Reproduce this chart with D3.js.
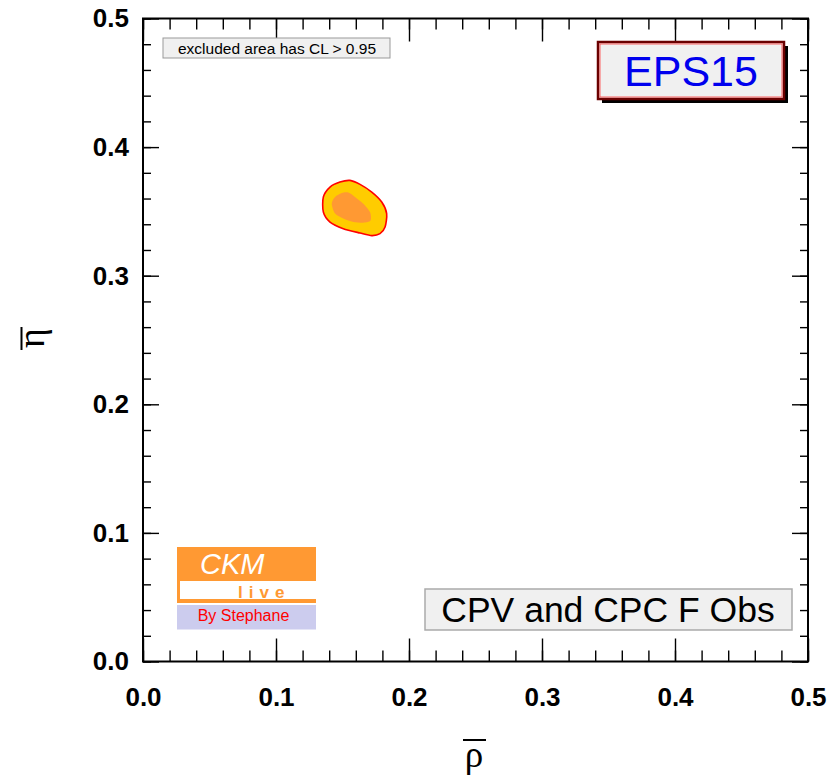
<!DOCTYPE html>
<html>
<head>
<meta charset="utf-8">
<script src="https://cdn.jsdelivr.net/npm/d3@7"></script>
<style>
  body { margin: 0; background: #fff; }
  svg { display: block; }
  .axis path { display: none; }
  .axis line { stroke: #000; stroke-width: 1.4; }
  .axis text { font-family: "Liberation Sans", Arial, sans-serif; font-weight: bold; font-size: 26px; fill: #000; }
</style>
</head>
<body>
<div id="graph"></div>
<script>
// tick labels
const rhoTicks = [0.0, 0.1, 0.2, 0.3, 0.4, 0.5];
const etaTicks = [0.0, 0.1, 0.2, 0.3, 0.4, 0.5];

// 95% CL contour (outer) and inner region
const outerRho = [0.1356, 0.1406, 0.1481, 0.1556, 0.1632, 0.1720, 0.1795, 0.1832, 0.1820, 0.1782, 0.1720, 0.1632, 0.1506, 0.1406, 0.1356];
const outerEta = [0.3612, 0.3689, 0.3728, 0.3741, 0.3710, 0.3650, 0.3573, 0.3483, 0.3378, 0.3327, 0.3312, 0.3332, 0.3366, 0.3417, 0.3495];
const innerRho = [0.1419, 0.1444, 0.1494, 0.1544, 0.1594, 0.1656, 0.1707, 0.1712, 0.1669, 0.1581, 0.1506, 0.1444];
const innerEta = [0.3560, 0.3612, 0.3643, 0.3646, 0.3612, 0.3560, 0.3495, 0.3431, 0.3413, 0.3418, 0.3444, 0.3483];

const svgWidth = 838;
const svgHeight = 775;
const plotLeft = 143, plotRight = 808, plotTop = 18.5, plotBottom = 661.5;

const svg = d3.select('#graph')
    .append('svg')
    .attr('width', svgWidth)
    .attr('height', svgHeight);

const xScale = d3.scaleLinear().domain([0, 0.5]).range([plotLeft, plotRight]);
const yScale = d3.scaleLinear().domain([0, 0.5]).range([plotBottom, plotTop]);

const minor = d3.range(0, 0.5001, 0.02);

// contours
const line = d3.line()
    .x(d => xScale(d[0]))
    .y(d => yScale(d[1]))
    .curve(d3.curveCardinalClosed.tension(0.2));

svg.append('path')
    .attr('d', line(outerRho.map((r, i) => [r, outerEta[i]])))
    .attr('fill', '#ffcc00')
    .attr('stroke', '#ff0000')
    .attr('stroke-width', 1.6);

svg.append('path')
    .attr('d', line(innerRho.map((r, i) => [r, innerEta[i]])))
    .attr('fill', '#ff9933');

// axes: major + minor on all four sides, ticks pointing inward
function addAxis(axisFn, scale, pos, size, values, labels, pad) {
    const ax = axisFn(scale)
        .tickValues(values)
        .tickSizeInner(-size)
        .tickSizeOuter(0)
        .tickPadding(pad || 0);
    if (labels) ax.tickFormat(d3.format('.1f')); else ax.tickFormat('');
    svg.append('g')
        .attr('class', 'axis')
        .attr('transform', pos)
        .call(ax);
}

addAxis(d3.axisBottom, xScale, `translate(0,${plotBottom})`, 23, rhoTicks, true, 26);
addAxis(d3.axisBottom, xScale, `translate(0,${plotBottom})`, 11, minor, false);
addAxis(d3.axisTop, xScale, `translate(0,${plotTop})`, 23, rhoTicks, false);
addAxis(d3.axisTop, xScale, `translate(0,${plotTop})`, 11, minor, false);
addAxis(d3.axisLeft, yScale, `translate(${plotLeft},0)`, 16, etaTicks, true, 14);
addAxis(d3.axisLeft, yScale, `translate(${plotLeft},0)`, 8, minor, false);
addAxis(d3.axisRight, yScale, `translate(${plotRight},0)`, 16, etaTicks, false);
addAxis(d3.axisRight, yScale, `translate(${plotRight},0)`, 8, minor, false);

// frame
svg.append('rect')
    .attr('x', plotLeft)
    .attr('y', plotTop)
    .attr('width', plotRight - plotLeft)
    .attr('height', plotBottom - plotTop)
    .attr('fill', 'none')
    .attr('stroke', '#000')
    .attr('stroke-width', 2);

// axis titles
svg.append('text')
    .text('ρ')
    .attr('x', 474)
    .attr('y', 767)
    .attr('text-anchor', 'middle')
    .style('font-family', '"Liberation Serif", "Times New Roman", serif')
    .style('font-size', '37px');
svg.append('line')
    .attr('x1', 463).attr('x2', 486)
    .attr('y1', 740).attr('y2', 740)
    .attr('stroke', '#000').attr('stroke-width', 2);

svg.append('text')
    .text('η')
    .attr('transform', 'translate(44,338) rotate(-90)')
    .attr('text-anchor', 'middle')
    .style('font-family', '"Liberation Serif", "Times New Roman", serif')
    .style('font-size', '38px');
svg.append('line')
    .attr('x1', 21.5).attr('x2', 21.5)
    .attr('y1', 327).attr('y2', 350)
    .attr('stroke', '#000').attr('stroke-width', 2);

// CL note
svg.append('rect')
    .attr('x', 163).attr('y', 38)
    .attr('width', 227).attr('height', 20)
    .attr('fill', '#f0f0f0')
    .attr('stroke', '#999').attr('stroke-width', 1);
svg.append('text')
    .text('excluded area has CL > 0.95')
    .attr('x', 277).attr('y', 53.5)
    .attr('text-anchor', 'middle')
    .style('font-family', '"Liberation Sans", Arial, sans-serif')
    .style('font-size', '15.5px');

// EPS15 box
svg.append('rect')
    .attr('x', 602).attr('y', 46)
    .attr('width', 186).attr('height', 57)
    .attr('fill', '#000');
svg.append('rect')
    .attr('x', 598).attr('y', 42)
    .attr('width', 186).attr('height', 57)
    .attr('fill', '#f0f0f0')
    .attr('stroke', '#6b0000').attr('stroke-width', 2.5);
svg.append('rect')
    .attr('x', 600).attr('y', 44)
    .attr('width', 182).attr('height', 53)
    .attr('fill', 'none')
    .attr('stroke', '#ff4040').attr('stroke-width', 0.8);
svg.append('text')
    .text('EPS15')
    .attr('x', 691).attr('y', 86)
    .attr('text-anchor', 'middle')
    .attr('fill', '#0000ee')
    .style('font-family', '"Liberation Sans", Arial, sans-serif')
    .style('font-size', '43px');

// CKM live logo
svg.append('rect')
    .attr('x', 177).attr('y', 547)
    .attr('width', 139).attr('height', 56)
    .attr('fill', '#ff9933');
svg.append('rect')
    .attr('x', 180).attr('y', 581)
    .attr('width', 136).attr('height', 18)
    .attr('fill', '#fff');
svg.append('text')
    .text('CKM')
    .attr('x', 200).attr('y', 574)
    .attr('fill', '#fff')
    .style('font-family', '"Liberation Sans", Arial, sans-serif')
    .style('font-style', 'italic')
    .style('font-size', '29px');
svg.append('text')
    .text('live')
    .attr('x', 238).attr('y', 597.5)
    .attr('fill', '#ff9933')
    .style('font-family', '"Liberation Sans", Arial, sans-serif')
    .style('font-weight', 'bold')
    .style('letter-spacing', '6px')
    .style('font-size', '17px');
svg.append('rect')
    .attr('x', 177).attr('y', 605)
    .attr('width', 139).attr('height', 24.5)
    .attr('fill', '#ccccee');
svg.append('text')
    .text('By Stephane')
    .attr('x', 243.5).attr('y', 621)
    .attr('text-anchor', 'middle')
    .attr('fill', '#ff0000')
    .style('font-family', '"Liberation Sans", Arial, sans-serif')
    .style('font-size', '16px');

// fit label
svg.append('rect')
    .attr('x', 425).attr('y', 589)
    .attr('width', 367).attr('height', 41)
    .attr('fill', '#f0f0f0')
    .attr('stroke', '#aaa').attr('stroke-width', 1.5);
svg.append('text')
    .text('CPV and CPC F Obs')
    .attr('x', 608).attr('y', 622)
    .attr('text-anchor', 'middle')
    .style('font-family', '"Liberation Sans", Arial, sans-serif')
    .style('font-size', '35.5px');
</script>
</body>
</html>
